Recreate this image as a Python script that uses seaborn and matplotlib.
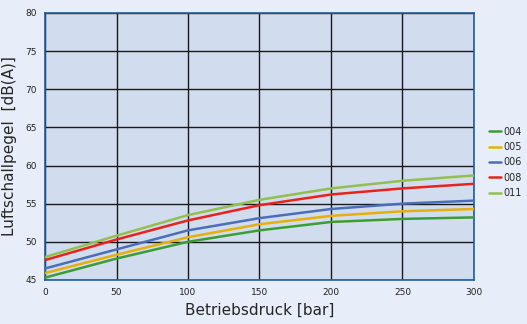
import numpy as np
import pandas as pd
import matplotlib
matplotlib.use("Agg")
import matplotlib.pyplot as plt
import seaborn as sns

#----------DATA-----------------#
pressure = [0, 50, 100, 150, 200, 250, 300]
s004 = [45.3, 47.8, 50.0, 51.5, 52.6, 53.0, 53.2]
s005 = [45.9, 48.3, 50.6, 52.3, 53.4, 54.0, 54.3]
s006 = [46.5, 49.0, 51.5, 53.1, 54.3, 55.0, 55.4]
s008 = [47.6, 50.3, 52.8, 54.8, 56.2, 57.0, 57.6]
s011 = [48.0, 50.8, 53.5, 55.5, 57.0, 58.0, 58.7]
series_names = ["004", "005", "006", "008", "011"]
colors = ["#3a9e35", "#e6b00a", "#4a6fb8", "#e8231a", "#92c050"]

df = pd.concat([
    pd.DataFrame({"p": pressure, "val": vals, "typ": name})
    for name, vals in zip(series_names, [s004, s005, s006, s008, s011])
])

#----------PLOT-----------------#
sns.set_style("white")
plt.rcParams["font.family"] = ["DejaVu Sans"]

fig = plt.figure(figsize=(5.27, 3.24), dpi=100, facecolor="#e8eef9")
ax = fig.add_axes([0.0854, 0.136, 0.814, 0.824])
ax.set_facecolor("#d2dcef")

sns.lineplot(data=df, x="p", y="val", hue="typ", palette=colors,
             linewidth=1.8, ax=ax, zorder=3)

ax.set_xlim(0, 300)
ax.set_ylim(45, 80)
ax.set_xticks(range(0, 301, 50))
ax.set_yticks(range(45, 81, 5))
ax.grid(True, color="#1a1a1a", linewidth=1.0, zorder=1)
ax.tick_params(labelsize=6.5, length=0, pad=6, colors="#222222")
for s in ax.spines.values():
    s.set_color("#1f5f9f")
    s.set_linewidth(1.2)

ax.set_xlabel("Betriebsdruck [bar]", fontsize=11, labelpad=4)
ax.set_ylabel("Luftschallpegel  [dB(A)]", fontsize=11, labelpad=6)

ax.legend(loc="center left", bbox_to_anchor=(1.035, 0.44), frameon=False,
          fontsize=7, handlelength=1.2, handletextpad=0.3, labelspacing=0.55,
          borderaxespad=0, borderpad=0)

fig.savefig("out.png", dpi=100, facecolor=fig.get_facecolor())
